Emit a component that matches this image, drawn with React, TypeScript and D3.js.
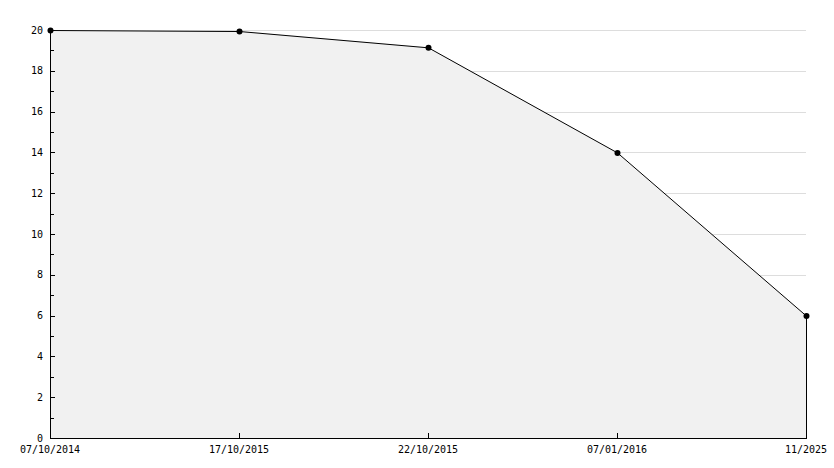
import React from "react";
import * as d3 from "d3";

const categories = ["07/10/2014", "17/10/2015", "22/10/2015", "07/01/2016", "11/2025"];
const values = [20, 19.95, 19.15, 14, 6];
const majorTicks = [0, 2, 4, 6, 8, 10, 12, 14, 16, 18, 20];
const minorTicks = [1, 3, 5, 7, 9, 11, 13, 15, 17, 19];

export default function App() {
  const W = 834, H = 468;
  const left = 50, right = 806, top = 30, bottom = 438;
  const x = d3.scalePoint<string>().domain(categories).range([left, right]);
  const y = d3.scaleLinear().domain([0, 20]).range([bottom, top]);
  const data = categories.map((c, i) => ({ c, v: values[i] }));
  const area = d3.area<{ c: string; v: number }>()
    .x(d => x(d.c)!)
    .y0(y(0))
    .y1(d => y(d.v));
  const line = d3.line<{ c: string; v: number }>()
    .x(d => x(d.c)! + 0.5)
    .y(d => y(d.v) + 0.5);
  const font = "'DejaVu Sans Mono', monospace";
  return (
    <svg width={W} height={H} style={{ position: "absolute", left: 0, top: 0, background: "#fff" }}>
      {majorTicks.filter(t => t > 0).map(t => (
        <line key={"g" + t} x1={left} x2={right} y1={y(t) + 0.5} y2={y(t) + 0.5} stroke="#dddddd" strokeWidth={1} shapeRendering="crispEdges" />
      ))}
      <path d={area(data)!} fill="#f1f1f1" stroke="none" />
      <path d={line(data)!} fill="none" stroke="#000" strokeWidth={1} />
      <line x1={right + 0.5} x2={right + 0.5} y1={y(values[values.length - 1])} y2={bottom} stroke="#000" shapeRendering="crispEdges" />
      <line x1={left + 0.5} x2={left + 0.5} y1={y(20)} y2={bottom + 0.5} stroke="#000" shapeRendering="crispEdges" />
      <line x1={left} x2={right + 1} y1={bottom + 0.5} y2={bottom + 0.5} stroke="#000" shapeRendering="crispEdges" />
      {majorTicks.map(t => (
        <g key={"m" + t}>
          <line x1={left} x2={left + 5} y1={y(t) + 0.5} y2={y(t) + 0.5} stroke="#000" shapeRendering="crispEdges" />
          <text x={43} y={y(t)} dy="0.35em" textAnchor="end" fontFamily={font} fontSize={10} fill="#000">{t}</text>
        </g>
      ))}
      {minorTicks.map(t => (
        <line key={"n" + t} x1={left} x2={left + 4} y1={y(t) + 0.5} y2={y(t) + 0.5} stroke="#000" shapeRendering="crispEdges" />
      ))}
      {categories.map(c => (
        <g key={"x" + c}>
          <line x1={x(c)! + 0.5} x2={x(c)! + 0.5} y1={bottom - 5} y2={bottom} stroke="#000" shapeRendering="crispEdges" />
          <text x={x(c)!} y={449} dy="0.35em" textAnchor="middle" fontFamily={font} fontSize={10} fill="#000">{c}</text>
        </g>
      ))}
      {data.map(d => (
        <circle key={"p" + d.c} cx={x(d.c)! + 0.5} cy={y(d.v) + 0.5} r={3} fill="#000" />
      ))}
    </svg>
  );
}
